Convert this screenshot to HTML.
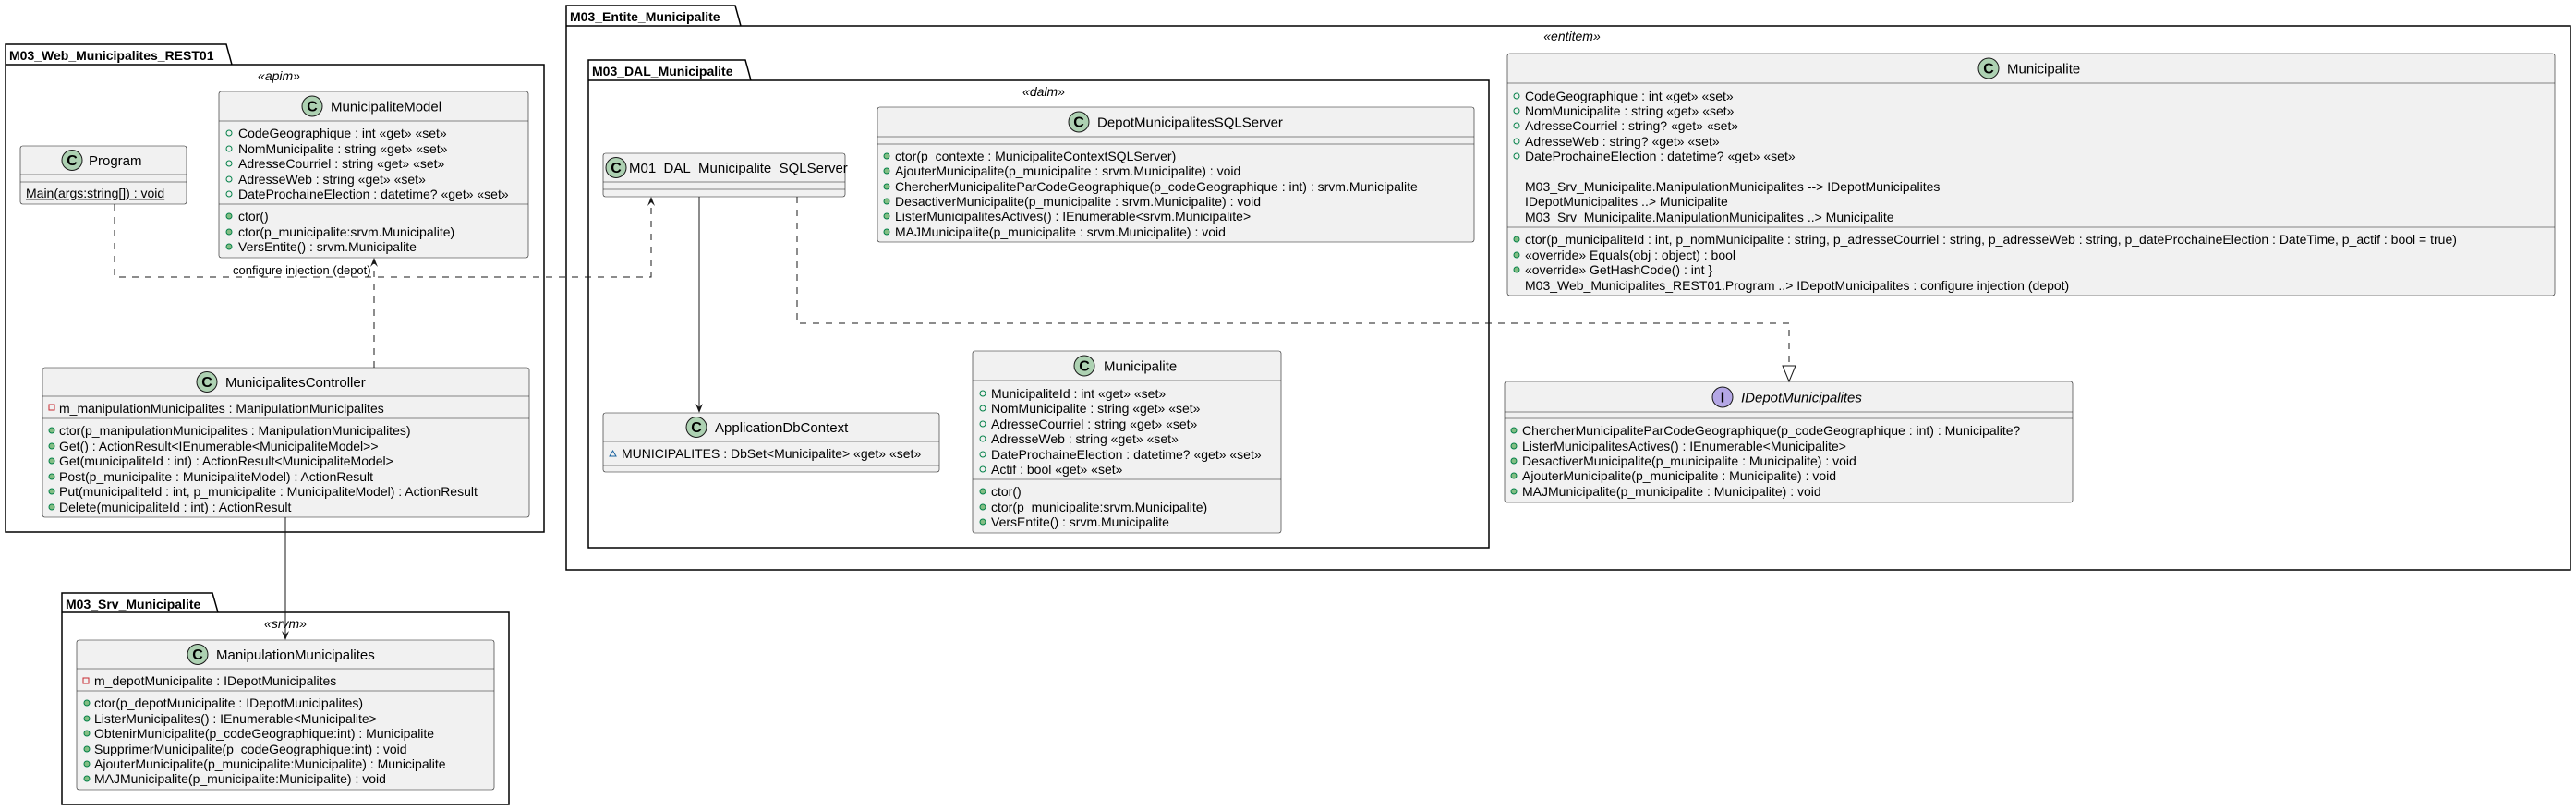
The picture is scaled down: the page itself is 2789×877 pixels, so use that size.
<!DOCTYPE html>
<html><head><meta charset="utf-8"><style>
html,body{margin:0;padding:0;background:#fff}
svg{display:block}
text{font-family:"Liberation Sans",sans-serif;fill:#000}
.m{font-size:14px}
.n{font-size:15px}
.p{font-size:14px;font-weight:bold}
.s{font-size:14px;font-style:italic}
.box{fill:#F1F1F1;stroke:#181818;stroke-width:0.6}
.ln{stroke:#181818;stroke-width:0.6}
.pk{fill:none;stroke:#000;stroke-width:1.5}
.fo{fill:none;stroke:#038048;stroke-width:1}
.fm{fill:#84BE84;stroke:#038048;stroke-width:1}
.ci{fill:#ADD1B2;stroke:#181818;stroke-width:1}
.cl{font-size:16px;font-weight:bold;text-anchor:middle}
.e{stroke:#181818;stroke-width:1;fill:none}
.d{stroke:#181818;stroke-width:1;fill:none;stroke-dasharray:7,7}
</style></head><body>
<svg width="2789" height="877" viewBox="0 0 2789 877" xmlns="http://www.w3.org/2000/svg">

<path class="pk" d="M6 48 L245 48 L251 70 L589 70 L589 576 L6 576 Z M6 70 L251 70"/>
<text class="p" x="10" y="65">M03_Web_Municipalites_REST01</text>
<text class="s" x="302" y="87" text-anchor="middle">«apim»</text>

<path class="pk" d="M67 642 L230 642 L236 663 L551 663 L551 871 L67 871 Z M67 663 L236 663"/>
<text class="p" x="71" y="659">M03_Srv_Municipalite</text>
<text class="s" x="309" y="680" text-anchor="middle">«srvm»</text>

<path class="pk" d="M613 6 L796 6 L802 28 L2783 28 L2783 617 L613 617 Z M613 28 L802 28"/>
<text class="p" x="617" y="23">M03_Entite_Municipalite</text>
<text class="s" x="1702" y="44" text-anchor="middle">«entitem»</text>

<path class="pk" d="M637 65 L807 65 L813 87 L1612 87 L1612 593 L637 593 Z M637 87 L813 87"/>
<text class="p" x="641" y="82">M03_DAL_Municipalite</text>
<text class="s" x="1130" y="104" text-anchor="middle">«dalm»</text>

<rect class="box" x="22" y="158" width="180" height="63" rx="2.5"/>
<line class="ln" x1="22" y1="189" x2="202" y2="189"/><line class="ln" x1="22" y1="197" x2="202" y2="197"/>
<circle class="ci" cx="78" cy="173.5" r="11"/><text class="cl" x="78" y="179">C</text>
<text class="n" x="96" y="179">Program</text>
<text class="m" x="28" y="214" text-decoration="underline">Main(args:string[]) : void</text>

<rect class="box" x="237" y="99" width="335" height="180" rx="2.5"/>
<line class="ln" x1="237" y1="131" x2="572" y2="131"/><line class="ln" x1="237" y1="221" x2="572" y2="221"/>
<circle class="ci" cx="338" cy="115" r="11"/><text class="cl" x="338" y="120.5">C</text>
<text class="n" x="358" y="120.5">MunicipaliteModel</text>
<g class="m">
<circle class="fo" cx="248" cy="144" r="3"/><text x="258" y="149">CodeGeographique : int «get» «set»</text>
<circle class="fo" cx="248" cy="161" r="3"/><text x="258" y="166">NomMunicipalite : string «get» «set»</text>
<circle class="fo" cx="248" cy="177" r="3"/><text x="258" y="182">AdresseCourriel : string «get» «set»</text>
<circle class="fo" cx="248" cy="194" r="3"/><text x="258" y="199">AdresseWeb : string «get» «set»</text>
<circle class="fo" cx="248" cy="210" r="3"/><text x="258" y="215">DateProchaineElection : datetime? «get» «set»</text>
<circle class="fm" cx="248" cy="234" r="3"/><text x="258" y="239">ctor()</text>
<circle class="fm" cx="248" cy="251" r="3"/><text x="258" y="256">ctor(p_municipalite:srvm.Municipalite)</text>
<circle class="fm" cx="248" cy="267" r="3"/><text x="258" y="272">VersEntite() : srvm.Municipalite</text>
</g>

<rect class="box" x="46" y="398" width="527" height="162" rx="2.5"/>
<line class="ln" x1="46" y1="429" x2="573" y2="429"/><line class="ln" x1="46" y1="453" x2="573" y2="453"/>
<circle class="ci" cx="224" cy="413.5" r="11"/><text class="cl" x="224" y="419">C</text>
<text class="n" x="244" y="419">MunicipalitesController</text>
<g class="m">
<rect x="53" y="438" width="6" height="6" fill="none" stroke="#C82930"/><text x="64" y="447">m_manipulationMunicipalites : ManipulationMunicipalites</text>
<circle class="fm" cx="56" cy="466" r="3"/><text x="64" y="471">ctor(p_manipulationMunicipalites : ManipulationMunicipalites)</text>
<circle class="fm" cx="56" cy="483" r="3"/><text x="64" y="488">Get() : ActionResult&lt;IEnumerable&lt;MunicipaliteModel&gt;&gt;</text>
<circle class="fm" cx="56" cy="499" r="3"/><text x="64" y="504">Get(municipaliteId : int) : ActionResult&lt;MunicipaliteModel&gt;</text>
<circle class="fm" cx="56" cy="516" r="3"/><text x="64" y="521">Post(p_municipalite : MunicipaliteModel) : ActionResult</text>
<circle class="fm" cx="56" cy="532" r="3"/><text x="64" y="537">Put(municipaliteId : int, p_municipalite : MunicipaliteModel) : ActionResult</text>
<circle class="fm" cx="56" cy="549" r="3"/><text x="64" y="554">Delete(municipaliteId : int) : ActionResult</text>
</g>

<rect class="box" x="83" y="693" width="452" height="162" rx="2.5"/>
<line class="ln" x1="83" y1="724" x2="535" y2="724"/><line class="ln" x1="83" y1="748" x2="535" y2="748"/>
<circle class="ci" cx="214" cy="708.5" r="11"/><text class="cl" x="214" y="714">C</text>
<text class="n" x="234" y="714">ManipulationMunicipalites</text>
<g class="m">
<rect x="90" y="734" width="6" height="6" fill="none" stroke="#C82930"/><text x="102" y="742">m_depotMunicipalite : IDepotMunicipalites</text>
<circle class="fm" cx="94" cy="761" r="3"/><text x="102" y="766">ctor(p_depotMunicipalite : IDepotMunicipalites)</text>
<circle class="fm" cx="94" cy="778" r="3"/><text x="102" y="783">ListerMunicipalites() : IEnumerable&lt;Municipalite&gt;</text>
<circle class="fm" cx="94" cy="794" r="3"/><text x="102" y="799">ObtenirMunicipalite(p_codeGeographique:int) : Municipalite</text>
<circle class="fm" cx="94" cy="811" r="3"/><text x="102" y="816">SupprimerMunicipalite(p_codeGeographique:int) : void</text>
<circle class="fm" cx="94" cy="827" r="3"/><text x="102" y="832">AjouterMunicipalite(p_municipalite:Municipalite) : Municipalite</text>
<circle class="fm" cx="94" cy="843" r="3"/><text x="102" y="848">MAJMunicipalite(p_municipalite:Municipalite) : void</text>
</g>

<rect class="box" x="653" y="166" width="262" height="47" rx="2.5"/>
<line class="ln" x1="653" y1="197" x2="915" y2="197"/><line class="ln" x1="653" y1="205" x2="915" y2="205"/>
<circle class="ci" cx="667" cy="181.5" r="11"/><text class="cl" x="667" y="187">C</text>
<text class="n" x="681" y="187">M01_DAL_Municipalite_SQLServer</text>

<rect class="box" x="950" y="116" width="646" height="146" rx="2.5"/>
<line class="ln" x1="950" y1="148" x2="1596" y2="148"/><line class="ln" x1="950" y1="156" x2="1596" y2="156"/>
<circle class="ci" cx="1168" cy="132" r="11"/><text class="cl" x="1168" y="137.5">C</text>
<text class="n" x="1188" y="137.5">DepotMunicipalitesSQLServer</text>
<g class="m">
<circle class="fm" cx="960" cy="169" r="3"/><text x="969" y="174">ctor(p_contexte : MunicipaliteContextSQLServer)</text>
<circle class="fm" cx="960" cy="185" r="3"/><text x="969" y="190">AjouterMunicipalite(p_municipalite : srvm.Municipalite) : void</text>
<circle class="fm" cx="960" cy="202" r="3"/><text x="969" y="207">ChercherMunicipaliteParCodeGeographique(p_codeGeographique : int) : srvm.Municipalite</text>
<circle class="fm" cx="960" cy="218" r="3"/><text x="969" y="223">DesactiverMunicipalite(p_municipalite : srvm.Municipalite) : void</text>
<circle class="fm" cx="960" cy="234" r="3"/><text x="969" y="239">ListerMunicipalitesActives() : IEnumerable&lt;srvm.Municipalite&gt;</text>
<circle class="fm" cx="960" cy="251" r="3"/><text x="969" y="256">MAJMunicipalite(p_municipalite : srvm.Municipalite) : void</text>
</g>

<rect class="box" x="653" y="447" width="364" height="64" rx="2.5"/>
<line class="ln" x1="653" y1="478" x2="1017" y2="478"/><line class="ln" x1="653" y1="504" x2="1017" y2="504"/>
<circle class="ci" cx="754" cy="462.5" r="11"/><text class="cl" x="754" y="468">C</text>
<text class="n" x="774" y="468">ApplicationDbContext</text>
<path d="M660 494 L663.5 488 L667 494 Z" fill="none" stroke="#1963A0"/>
<text class="m" x="673" y="496">MUNICIPALITES : DbSet&lt;Municipalite&gt; «get» «set»</text>

<rect class="box" x="1053" y="380" width="334" height="197" rx="2.5"/>
<line class="ln" x1="1053" y1="412" x2="1387" y2="412"/><line class="ln" x1="1053" y1="519" x2="1387" y2="519"/>
<circle class="ci" cx="1174" cy="396" r="11"/><text class="cl" x="1174" y="401.5">C</text>
<text class="n" x="1195" y="401.5">Municipalite</text>
<g class="m">
<circle class="fo" cx="1064" cy="426" r="3"/><text x="1073" y="431">MunicipaliteId : int «get» «set»</text>
<circle class="fo" cx="1064" cy="442" r="3"/><text x="1073" y="447">NomMunicipalite : string «get» «set»</text>
<circle class="fo" cx="1064" cy="459" r="3"/><text x="1073" y="464">AdresseCourriel : string «get» «set»</text>
<circle class="fo" cx="1064" cy="475" r="3"/><text x="1073" y="480">AdresseWeb : string «get» «set»</text>
<circle class="fo" cx="1064" cy="492" r="3"/><text x="1073" y="497">DateProchaineElection : datetime? «get» «set»</text>
<circle class="fo" cx="1064" cy="508" r="3"/><text x="1073" y="513">Actif : bool «get» «set»</text>
<circle class="fm" cx="1064" cy="532" r="3"/><text x="1073" y="537">ctor()</text>
<circle class="fm" cx="1064" cy="549" r="3"/><text x="1073" y="554">ctor(p_municipalite:srvm.Municipalite)</text>
<circle class="fm" cx="1064" cy="565" r="3"/><text x="1073" y="570">VersEntite() : srvm.Municipalite</text>
</g>

<rect class="box" x="1632" y="58" width="1134" height="262" rx="2.5"/>
<line class="ln" x1="1632" y1="90" x2="2766" y2="90"/><line class="ln" x1="1632" y1="246" x2="2766" y2="246"/>
<circle class="ci" cx="2153" cy="74" r="11"/><text class="cl" x="2153" y="79.5">C</text>
<text class="n" x="2173" y="79.5">Municipalite</text>
<g class="m">
<circle class="fo" cx="1642" cy="104" r="3"/><text x="1651" y="109">CodeGeographique : int «get» «set»</text>
<circle class="fo" cx="1642" cy="120" r="3"/><text x="1651" y="125">NomMunicipalite : string «get» «set»</text>
<circle class="fo" cx="1642" cy="136" r="3"/><text x="1651" y="141">AdresseCourriel : string? «get» «set»</text>
<circle class="fo" cx="1642" cy="153" r="3"/><text x="1651" y="158">AdresseWeb : string? «get» «set»</text>
<circle class="fo" cx="1642" cy="169" r="3"/><text x="1651" y="174">DateProchaineElection : datetime? «get» «set»</text>
<text x="1651" y="207">M03_Srv_Municipalite.ManipulationMunicipalites --&gt; IDepotMunicipalites</text>
<text x="1651" y="223">IDepotMunicipalites ..&gt; Municipalite</text>
<text x="1651" y="240">M03_Srv_Municipalite.ManipulationMunicipalites ..&gt; Municipalite</text>
<circle class="fm" cx="1642" cy="259" r="3"/><text x="1651" y="264">ctor(p_municipaliteId : int, p_nomMunicipalite : string, p_adresseCourriel : string, p_adresseWeb : string, p_dateProchaineElection : DateTime, p_actif : bool = true)</text>
<circle class="fm" cx="1642" cy="276" r="3"/><text x="1651" y="281">«override» Equals(obj : object) : bool</text>
<circle class="fm" cx="1642" cy="292" r="3"/><text x="1651" y="297">«override» GetHashCode() : int    }</text>
<text x="1651" y="314">M03_Web_Municipalites_REST01.Program ..&gt; IDepotMunicipalites : configure injection (depot)</text>
</g>

<rect class="box" x="1629" y="413" width="615" height="131" rx="2.5"/>
<line class="ln" x1="1629" y1="446" x2="2244" y2="446"/><line class="ln" x1="1629" y1="453" x2="2244" y2="453"/>
<circle cx="1865" cy="430" r="11" fill="#B4A7E5" stroke="#181818"/><text class="cl" x="1865" y="435.5">I</text>
<text class="n" x="1885" y="435.5" font-style="italic">IDepotMunicipalites</text>
<g class="m">
<circle class="fm" cx="1639" cy="466" r="3"/><text x="1648" y="471">ChercherMunicipaliteParCodeGeographique(p_codeGeographique : int) : Municipalite?</text>
<circle class="fm" cx="1639" cy="483" r="3"/><text x="1648" y="488">ListerMunicipalitesActives() : IEnumerable&lt;Municipalite&gt;</text>
<circle class="fm" cx="1639" cy="499" r="3"/><text x="1648" y="504">DesactiverMunicipalite(p_municipalite : Municipalite) : void</text>
<circle class="fm" cx="1639" cy="515" r="3"/><text x="1648" y="520">AjouterMunicipalite(p_municipalite : Municipalite) : void</text>
<circle class="fm" cx="1639" cy="532" r="3"/><text x="1648" y="537">MAJMunicipalite(p_municipalite : Municipalite) : void</text>
</g>

<path class="d" d="M124 221 L124 300 L705 300 L705 214"/>
<path d="M705 213 L701 223 L705 219 L709 223 Z" fill="#181818"/>
<text x="252" y="297" style="font-size:13px">configure injection (depot)</text>

<path class="d" d="M405 398 L405 280"/>
<path d="M405 279 L401 289 L405 285 L409 289 Z" fill="#181818"/>

<path class="e" d="M309 560 L309 692"/>
<path d="M309 693 L305 683 L309 687 L313 683 Z" fill="#181818"/>

<path class="e" d="M757 213 L757 446"/>
<path d="M757 447 L753 437 L757 441 L761 437 Z" fill="#181818"/>

<path class="d" d="M863 213 L863 350 L1937 350 L1937 396"/>
<path d="M1930 396 L1944 396 L1937 413 Z" fill="#fff" stroke="#181818" stroke-width="1"/>
</svg>
</body></html>
